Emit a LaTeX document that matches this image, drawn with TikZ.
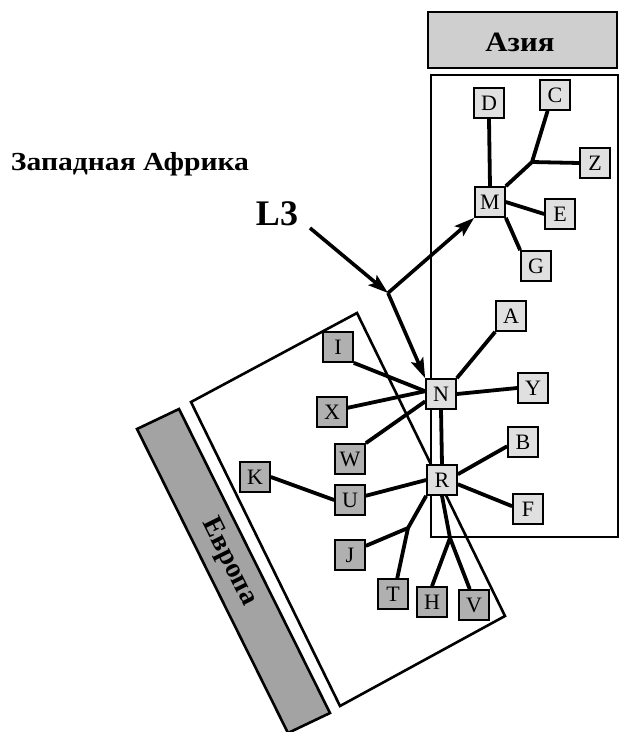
\documentclass[tikz,border=0pt]{standalone}
\usepackage{fontspec}
\setmainfont{Liberation Serif}
\usetikzlibrary{arrows.meta}

\tikzset{
  asianode/.style={draw, fill=gray!24, line width=1.7pt, minimum size=30pt, inner sep=0pt,
    font=\fontsize{22}{22}\selectfont},
  euronode/.style={asianode, fill=gray!62},
  link/.style={line width=3.8pt},
  frame/.style={line width=2.6pt},
  flow/.style={line width=3.6pt, -{Stealth[length=20pt, width=13pt, inset=4pt]}},
  region/.style={font=\bfseries\fontsize{28}{28}\selectfont},
}

\begin{document}
\begin{tikzpicture}[x=1pt, y=-1pt]
\useasboundingbox (0,0) rectangle (620,732);

% regions
\draw[frame, fill=gray!38] (428,12) rectangle (617,68);
\node[region, xscale=1.1] (asia) at (520,42) {Азия};
\draw[frame] (431,75) rectangle (618,537);
\draw[frame] (357,313) -- (505,616) -- (340,706) -- (191,402) -- cycle;
\draw[frame, fill=gray!72] (137,429) -- (179,409) -- (330,713) -- (288,733) -- cycle;
\node[region, rotate=-63.6] (europe) at (229,562) {Европа};
\node[font=\bfseries\fontsize{26}{26}\selectfont, xscale=1.14] (africa) at (130,164) {Западная Африка};
\node[font=\bfseries\fontsize{36}{36}\selectfont] (lthree) at (277,214) {L3};

% nodes
\node[asianode] (D) at (489,103) {D};
\node[asianode] (C) at (555,95) {C};
\node[asianode] (Z) at (595,163) {Z};
\node[asianode] (M) at (490,202) {M};
\node[asianode] (E) at (560,214) {E};
\node[asianode] (G) at (536,266) {G};
\node[asianode] (A) at (511,316) {A};
\node[asianode] (N) at (441,394) {N};
\node[asianode] (Y) at (533,388) {Y};
\node[asianode] (B) at (523,442) {B};
\node[asianode] (R) at (442,480) {R};
\node[asianode] (F) at (528,509) {F};
\node[euronode] (I) at (338,347) {I};
\node[euronode] (X) at (332,412) {X};
\node[euronode] (W) at (350,459) {W};
\node[euronode] (K) at (255,477) {K};
\node[euronode] (U) at (350,500) {U};
\node[euronode] (J) at (350,555) {J};
\node[euronode] (T) at (393,594) {T};
\node[euronode] (H) at (432,602) {H};
\node[euronode] (V) at (474,605) {V};

\coordinate (forkCZ) at (532,162);
\coordinate (forkJT) at (408,528);
\coordinate (forkHV) at (450,538);
\coordinate (forkL) at (388,293);
\coordinate (lstart) at (310,228);

% links
\draw[link] (M.north) -- (D.south);
\draw[link] (M.north east) -- (forkCZ) -- (C.245);
\draw[link] (forkCZ) -- (Z.west);
\draw[link] (M.east) -- (E.west);
\draw[link] (M.south east) -- (G.north west);
\draw[link] (N.north east) -- (A.south west);
\draw[link] (N.east) -- (Y.west);
\draw[link] (I.south east) -- (N.170);
\draw[link] (X.15) -- (N.170);
\draw[link] (W.north east) -- (N.205);
\draw[link] (N.south) -- (R.north);
\draw[link] (R.20) -- (B.195);
\draw[link] (R.-15) -- (F.170);
\draw[link] (R.west) -- (U.15);
\draw[link] (U.west) -- (K.east);
\draw[link] (R.south west) -- (forkJT) -- (J.30);
\draw[link] (forkJT) -- (T.75);
\draw[link] (R.south) -- (forkHV) -- (H.north);
\draw[link] (forkHV) -- (V.105);

% migration arrows
\draw[flow] (lstart) -- (forkL);
\draw[flow] (forkL) -- (M.south west);
\draw[flow] (forkL) -- (N.north west);
\end{tikzpicture}
\end{document}
